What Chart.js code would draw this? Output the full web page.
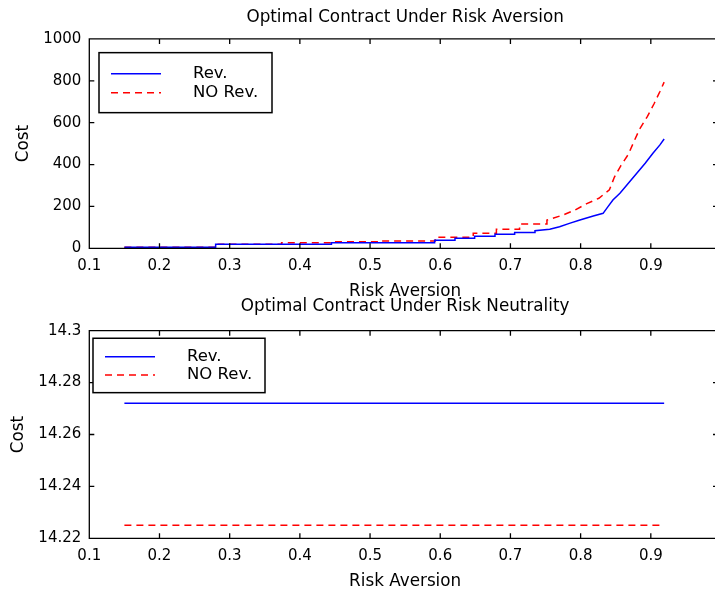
<!DOCTYPE html>
<html>
<head>
<meta charset="utf-8">
<script src="https://cdn.jsdelivr.net/npm/chart.js@4.4.0/dist/chart.umd.min.js"></script>
<style>
  html, body { margin: 0; padding: 0; background: #fff; overflow: hidden; }
  .plot { position: absolute; left: 0; width: 760px; height: 302px; }
  #top { top: 0; }
  #bottom { top: 290px; }
</style>
</head>
<body>
<div class="plot" id="top"><canvas id="aversionChart"></canvas></div>
<div class="plot" id="bottom"><canvas id="neutralChart"></canvas></div>
<script>
// cost of the optimal contract as risk aversion grows
const revRisk = [0.15, 0.28, 0.28, 0.445, 0.445, 0.592, 0.592, 0.621, 0.621, 0.649, 0.649, 0.678, 0.678, 0.706, 0.706, 0.735, 0.735,
  0.756, 0.770, 0.784, 0.799, 0.818, 0.832, 0.839, 0.846, 0.856, 0.868, 0.880, 0.892, 0.903, 0.913, 0.919];
const revCost = [5, 5, 19, 19, 27, 27, 38, 38, 48, 48, 57, 57, 67, 67, 76, 76, 84,
  91, 103, 119, 135, 154, 167, 199, 231, 263, 311, 359, 406, 454, 494, 522];

const noRevRisk = [0.15, 0.28, 0.28, 0.374, 0.374, 0.445, 0.445, 0.515, 0.515, 0.593, 0.593, 0.647, 0.647, 0.68, 0.68, 0.713, 0.713, 0.752, 0.752,
  0.775, 0.792, 0.808, 0.826, 0.841, 0.848, 0.857, 0.868, 0.876, 0.884, 0.895, 0.905, 0.913, 0.919];
const noRevCost = [5, 5, 19, 19, 27, 27, 31, 31, 35, 35, 53, 53, 72, 72, 91, 91, 116, 116, 135,
  159, 183, 212, 239, 279, 339, 393, 449, 510, 569, 629, 693, 749, 794];

// risk neutral case: flat cost over the same range
const neutralRisk = [0.15, 0.919];
const neutralRevCost = [14.272, 14.272];
const neutralNoRevCost = [14.225, 14.225];

// tick values
const riskTicks = [0.1, 0.2, 0.3, 0.4, 0.5, 0.6, 0.7, 0.8, 0.9, 1.0];
const aversionTicks = [0, 200, 400, 600, 800, 1000];
const neutralTicks = [14.22, 14.24, 14.26, 14.28, 14.3];

const blue = '#0000ff';
const red = '#ff0000';
const face = '"DejaVu Sans", sans-serif';
const tickFont = { family: face, size: 15 };
const labelFont = { family: face, size: 16.8, weight: 'normal' };

function points(xs, ys) {
  return xs.map((x, i) => ({ x: x, y: ys[i] }));
}

function tickLabel(value) {
  return String(Number(value.toFixed(2)));
}

// left, top and bottom edges of the plot box with short ticks pointing inwards;
// the right edge falls outside the page, only its ticks reach in
const boxAxes = {
  id: 'boxAxes',
  afterDatasetsDraw(chart) {
    const { ctx, chartArea: a, scales: { x, y } } = chart;
    const len = 5;
    ctx.save();
    ctx.strokeStyle = '#000';
    ctx.lineWidth = 1.3;
    ctx.beginPath();
    ctx.moveTo(a.right, a.top);
    ctx.lineTo(a.left, a.top);
    ctx.lineTo(a.left, a.bottom);
    ctx.lineTo(a.right, a.bottom);
    x.ticks.forEach(t => {
      const px = x.getPixelForValue(t.value);
      ctx.moveTo(px, a.bottom); ctx.lineTo(px, a.bottom - len);
      ctx.moveTo(px, a.top); ctx.lineTo(px, a.top + len);
    });
    y.ticks.forEach(t => {
      const py = y.getPixelForValue(t.value);
      ctx.moveTo(a.left, py); ctx.lineTo(a.left + len, py);
      ctx.moveTo(a.right, py); ctx.lineTo(a.right - 8, py);
    });
    ctx.stroke();
    ctx.restore();
  }
};

// legend drawn as a framed box in the top left corner of the plot
const boxLegend = {
  id: 'boxLegend',
  afterDraw(chart, args, opts) {
    const { ctx, chartArea: a } = chart;
    const x0 = a.left + opts.dx;
    const y0 = a.top + opts.dy;
    ctx.save();
    ctx.fillStyle = '#fff';
    ctx.fillRect(x0, y0, opts.w, opts.h);
    ctx.strokeStyle = '#000';
    ctx.lineWidth = 1.5;
    ctx.strokeRect(x0, y0, opts.w, opts.h);
    chart.data.datasets.forEach((ds, i) => {
      const ly = y0 + opts.rowTop + i * opts.rowGap;
      ctx.strokeStyle = ds.borderColor;
      ctx.lineWidth = ds.borderWidth;
      ctx.setLineDash(ds.borderDash || []);
      ctx.beginPath();
      ctx.moveTo(x0 + 12, ly);
      ctx.lineTo(x0 + 62, ly);
      ctx.stroke();
      ctx.setLineDash([]);
      ctx.fillStyle = '#000';
      ctx.font = '16.5px ' + face;
      ctx.textBaseline = 'middle';
      ctx.fillText(ds.label, x0 + opts.textX, ly);
    });
    ctx.restore();
  }
};

function makeConfig(p) {
  return {
    type: 'line',
    data: {
      datasets: [
        { label: 'Rev.', data: p.rev, borderColor: blue, borderWidth: 1.5 },
        { label: 'NO Rev.', data: p.noRev, borderColor: red, borderWidth: 1.5, borderDash: [7, 5] }
      ]
    },
    options: {
      responsive: true,
      maintainAspectRatio: false,
      animation: false,
      parsing: false,
      elements: { point: { radius: 0 }, line: { tension: 0, fill: false } },
      layout: { padding: { left: 0, right: 39, top: 0, bottom: 0 } },
      scales: {
        x: {
          type: 'linear',
          min: 0.1,
          max: 1.0,
          afterBuildTicks: s => { s.ticks = riskTicks.map(v => ({ value: v })); },
          afterFit: s => { s.height = 53.7; },
          grid: { display: false, drawTicks: false },
          border: { display: false },
          ticks: { padding: 9, color: '#000', font: tickFont, callback: tickLabel, maxRotation: 0, autoSkip: false },
          title: { display: true, text: 'Risk Aversion', color: '#000', font: labelFont, padding: { top: 0, bottom: 0.5 } }
        },
        y: {
          type: 'linear',
          min: p.yTicks[0],
          max: p.yTicks[p.yTicks.length - 1],
          afterBuildTicks: s => { s.ticks = p.yTicks.map(v => ({ value: v })); },
          afterFit: s => { s.width = 89.3; },
          grid: { display: false, drawTicks: false },
          border: { display: false },
          ticks: { padding: 8, color: '#000', font: tickFont, callback: tickLabel, autoSkip: false },
          title: { display: true, text: 'Cost', color: '#000', font: labelFont, padding: { top: p.costPad, bottom: 0 } }
        }
      },
      plugins: {
        legend: { display: false },
        tooltip: { enabled: false },
        title: {
          display: true,
          fullSize: false,
          text: p.title,
          color: '#000',
          font: labelFont,
          padding: p.titlePad
        },
        boxLegend: p.legend
      }
    },
    plugins: [boxAxes, boxLegend]
  };
}

new Chart(document.getElementById('aversionChart'), makeConfig({
  title: 'Optimal Contract Under Risk Aversion',
  titlePad: { top: 7.5, bottom: 11.3 },
  costPad: 13.1,
  yTicks: aversionTicks,
  rev: points(revRisk, revCost),
  noRev: points(noRevRisk, noRevCost),
  legend: { dx: 9.7, dy: 13.7, w: 173, h: 60, rowTop: 21, rowGap: 19, textX: 94 }
}));

new Chart(document.getElementById('neutralChart'), makeConfig({
  title: 'Optimal Contract Under Risk Neutrality',
  titlePad: { top: 6.7, bottom: 13.8 },
  costPad: 8.1,
  yTicks: neutralTicks,
  rev: points(neutralRisk, neutralRevCost),
  noRev: points(neutralRisk, neutralNoRevCost),
  legend: { dx: 3.7, dy: 7.6, w: 172, h: 54.4, rowTop: 18.4, rowGap: 18.3, textX: 94 }
}));
</script>
</body>
</html>
